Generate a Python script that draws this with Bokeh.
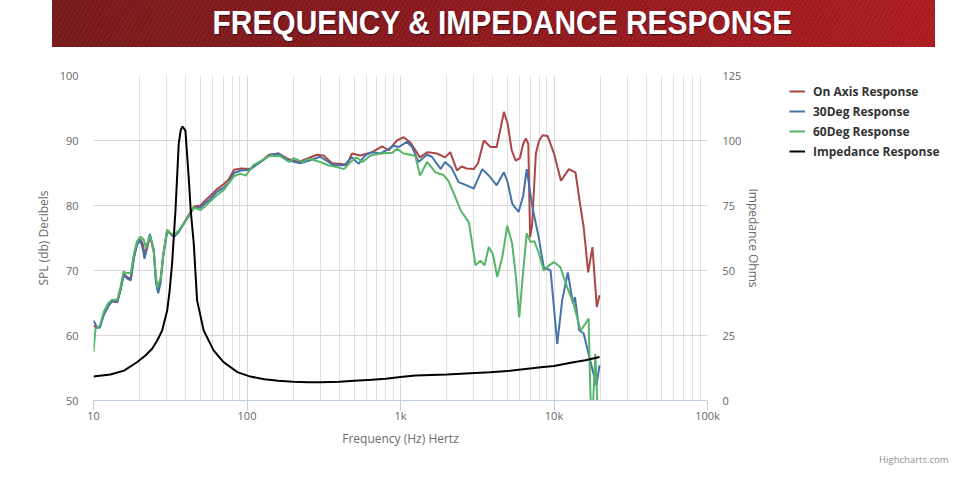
from bokeh.plotting import figure
from bokeh.models import Range1d, LinearAxis, FixedTicker, Legend, LegendItem, Title, Div
from bokeh.layouts import column, row
from bokeh.embed import file_html
from bokeh.resources import INLINE

# ---------------- data ----------------
title_text = "FREQUENCY &amp; IMPEDANCE RESPONSE"
series_names = ["On Axis Response", "30Deg Response", "60Deg Response", "Impedance Response"]

x_ticks = [10, 100, 1000, 10000, 100000]
x_tick_labels = ["10", "100", "1k", "10k", "100k"]
y_ticks = [50, 60, 70, 80, 90, 100]
imp_ticks = [0, 25, 50, 75, 100, 125]

freq_on = [10, 10.5, 11, 11.7, 12.5, 13.2, 14.3, 15, 15.7, 16.5, 17.5, 18.3, 19.2, 20.2, 21.0, 21.6,
           22.4, 23.3, 24.7, 25.5, 26.4, 27.3, 28.5, 30.2, 31.5, 33.4, 36, 40.8, 45, 49.8, 53, 57.8,
           63, 70.6, 76, 82.3, 92, 104, 122, 139, 161, 183, 217, 246, 285, 315, 358, 416, 444, 484,
           548, 653, 759, 838, 948, 1048, 1160, 1340, 1490, 1600, 1730,
           1950, 2110, 2330, 2500, 2700, 3000, 3200, 3490, 3860, 4230, 4500, 4720, 5000, 5300, 5630,
           6000, 6300, 6550, 6800, 6990, 7200, 7620, 8000, 8430, 9080, 10000, 11100, 12500, 13800,
           14900, 15600, 16700, 17800, 19000, 19800]
spl_on = [61.5, 61.2, 61.3, 63.5, 64.8, 65.3, 65.1, 67, 69.5, 69, 68.7, 72, 74, 74.8, 74, 72.2,
          73.5, 75.3, 73, 68.5, 66.9, 68.5, 72.5, 76.2, 75.8, 75.2, 76, 78.2, 79.8, 80, 80.7, 81.5,
          82.4, 83.3, 84, 85.5, 85.7, 85.6, 86.7, 87.8, 88.0, 87.2, 86.7, 87.2, 87.8, 87.7, 86.5, 86.4, 86.2, 88.0,
          87.7, 88.2, 89.1, 88.5, 90.0, 90.5, 89.7, 87.4, 88.2, 88.1, 88.0,
          87.4, 88.2, 85.4, 86, 85.7, 85.6, 86.5, 90, 89.0, 89, 92, 94.4, 92.5, 88.5, 86.9,
          87.3, 89.5, 90.3, 89.5, 75.1, 77, 88, 90, 90.8, 90.7, 88.0, 83.8, 85.6, 85.1,
          79.7, 76.7, 69.7, 73.6, 64.4, 66.2]

freq_30 = [10, 10.5, 11, 11.7, 12.5, 13.2, 14.3, 15, 15.7, 16.5, 17.5, 18.3, 19.2, 20.2, 21.0, 21.5,
           22.4, 23.3, 24.7, 25.5, 26.4, 27.3, 28.5, 30.2, 31.5, 33.4, 36, 40.8, 45, 49.8, 53, 57.8,
           63, 70.6, 76, 82.3, 92, 104, 116, 128, 142.5, 161, 183, 222, 260, 300, 366, 428, 484, 533,
           588, 653, 740, 838, 904, 975, 1100, 1190, 1310, 1490, 1600, 1830, 1950, 2150, 2390,
           2700, 3000, 3410, 3800, 4230, 4720, 5000, 5340, 5880, 6300, 6640, 7240, 7950, 8570, 9500,
           10500, 11300, 12300, 13300, 13700, 14600, 15600, 17200, 18900, 19800]
spl_30 = [62.3, 61.3, 61.2, 63.2, 64.5, 65.2, 65.3, 67, 69.3, 68.8, 68.5, 71.8, 74, 74.7, 73.2, 71.8,
          74, 75.6, 73.2, 68.2, 66.5, 68, 72.3, 76, 75.7, 75.2, 76, 78, 79.6, 79.7, 80.3, 81,
          82, 82.8, 83.5, 85, 85.4, 85.5, 86.3, 87, 87.8, 88, 87.0, 86.5, 87.0, 87.5, 86.2, 86.2, 87.4, 86.4,
          87.7, 88.2, 88.0, 88.7, 89.2, 89.0, 89.8, 89.0, 86.7, 87.8, 87.5, 85.6, 86.7, 85.8, 83.6,
          83.1, 82.6, 85.6, 84.5, 83.1, 85.1, 83.5, 80.3, 79.0, 81.5, 85.6, 79.7, 75.1, 70.5, 70,
          58.7, 65.4, 69.7, 64.9, 65.9, 60.8, 60.3, 56.2, 52.3, 55.4]

freq_60 = [10, 10.3, 11, 11.7, 12.5, 13.2, 14.3, 15, 15.7, 16.5, 17.5, 18.3, 19.2, 20.2, 21.2, 22.0,
           23.3, 24.7, 26.0, 27.5, 28.5, 30.2, 31.5, 33.4, 36, 40.8, 45, 49.8, 53, 57.8, 63, 70.6,
           82.3, 90.6, 98, 110, 139, 165, 188, 202, 229, 254, 300, 339, 384, 428, 473, 520, 565, 637,
           740, 883, 948, 1048, 1160, 1250, 1340, 1490, 1690, 1900, 2050, 2230, 2470, 2790, 3080, 3320,
           3530, 3760, 4000, 4270, 4600, 4960, 5340, 5650, 5940, 6250, 6640, 7030, 7460, 8000, 8570,
           9300, 10000, 11000, 12200, 13400, 14900, 16000, 16800, 17200, 17600, 18600, 19500]
spl_60 = [57.5, 61, 61.5, 63.7, 65, 65.5, 65.5, 67.5, 69.8, 69.6, 69.6, 72.5, 74.5, 75.2, 74.8, 73.5,
          75.4, 72.8, 67.3, 69, 72.5, 76.3, 75.8, 75.5, 76.2, 78, 79.7, 79.3, 79.8, 80.7, 81.5, 82.4,
          84.5, 84.9, 84.6, 86.2, 87.6, 87.6, 86.7, 87.3, 86.7, 87.2, 86.7, 86.2, 85.9, 85.6, 86.7, 87.4, 86.7, 87.7,
          88.0, 88.1, 88.7, 88.0, 87.8, 87.6, 84.6, 86.7, 85.1, 84.7, 83.8, 81.8, 79.2, 77.4, 70.8, 71.5,
          70.8, 73.6, 72.5, 69.0, 72, 76.9, 74.1, 69, 62.8, 69, 75.7, 74.4, 74.5, 72.5, 70.0,
          70.8, 71.3, 70.5, 67.4, 64.9, 60.8, 61.8, 62.6, 52.6, 45, 57.2, 45]

freq_imp = [10, 12.9, 15.8, 19.2, 21.8, 24.1, 26, 28, 30.2, 31.3, 32.5, 34.2, 35.9, 37, 38, 39.7,
            41.7, 43, 45, 47.3, 52.2, 60.7, 70.6, 86.6, 105, 130, 160, 200, 250, 300, 400, 500, 650,
            800, 1000, 1250, 2000, 3800, 5000, 8200, 10000, 13400, 16000, 19800]
imp_ohms = [9.2, 10.0, 11.5, 14.7, 17.3, 19.9, 23.1, 26.9, 34.6, 42, 52.6, 73.1, 98.7, 104, 105.4, 103.8,
            85.9, 73, 60.3, 38.5, 26.9, 19.2, 14.7, 10.9, 9.2, 8.2, 7.6, 7.2, 7.0, 7.0, 7.2, 7.6, 8.0,
            8.4, 9.0, 9.6, 10.0, 10.9, 11.3, 12.8, 13.3, 14.7, 15.5, 16.7]

# ---------------- style ----------------
colors = ["#aa4643", "#4572a7", "#55b569", "#000000"]
tick_font = "Open Sans"

# ---------------- banner ----------------
banner_html = (
    '<div style="width:883px;height:47px;margin-left:52px;overflow:hidden;'
    'background-image:'
    'repeating-linear-gradient(37deg, rgba(0,0,0,0.10) 0px, rgba(0,0,0,0.10) 1px, rgba(0,0,0,0) 1px, rgba(0,0,0,0) 3px),'
    'repeating-linear-gradient(-61deg, rgba(255,255,255,0.05) 0px, rgba(255,255,255,0.05) 1px, rgba(255,255,255,0) 1px, rgba(255,255,255,0) 4px),'
    'linear-gradient(90deg, #7b1b1c 0%, #8a1a1d 35%, #9e1b1f 70%, #b21c21 100%);'
    'text-align:center;">'
    '<span style="display:inline-block;margin-left:18px;transform:scaleX(0.88);transform-origin:center;'
    'font-family:\'Liberation Sans\', Arial, sans-serif;font-weight:bold;font-size:34px;line-height:44px;'
    'color:#ffffff;text-shadow:1px 1px 1px rgba(20,10,40,0.7);white-space:nowrap;">'
    + title_text + '</span></div>'
)
banner = Div(text=banner_html, width=976, height=47, margin=0)

# ---------------- main chart ----------------
p = figure(frame_width=614, frame_height=325, x_axis_type="log", x_range=Range1d(10, 100000),
           y_range=Range1d(50, 100), output_backend="svg", toolbar_location=None,
           min_border_left=93, min_border_right=40, min_border_top=28, min_border_bottom=85)
p.outline_line_color = None
p.extra_y_ranges = {"imp": Range1d(0, 125)}

minor = [m * d for d in x_ticks[:-1] for m in range(2, 10)]
p.xaxis.ticker = FixedTicker(ticks=x_ticks, minor_ticks=minor)
p.xaxis.major_label_overrides = {t: l for t, l in zip(x_ticks, x_tick_labels)}
p.xaxis.axis_label = "Frequency (Hz) Hertz"
p.xaxis.axis_line_color = "#c0d0e0"
p.xaxis.major_tick_line_color = "#c0d0e0"
p.xaxis.major_tick_out = 10
p.xaxis.major_tick_in = 0
p.xaxis.minor_tick_line_color = None
p.xaxis.minor_tick_out = 0
p.xaxis.major_label_standoff = -3
p.xaxis.axis_label_standoff = 4

p.yaxis.ticker = FixedTicker(ticks=y_ticks)
p.yaxis.axis_label = "SPL (db) Decibels"
p.yaxis.axis_line_color = None
p.yaxis.major_tick_line_color = None
p.yaxis.minor_tick_line_color = None
p.yaxis.major_tick_out = 0
p.yaxis.minor_tick_out = 0
p.yaxis.major_label_standoff = 15
p.yaxis.axis_label_standoff = 5

ax2 = LinearAxis(y_range_name="imp", ticker=FixedTicker(ticks=imp_ticks), axis_label="Impedance Ohms")
ax2.axis_line_color = None
ax2.major_tick_line_color = None
ax2.minor_tick_line_color = None
ax2.major_tick_out = 0
ax2.minor_tick_out = 0
ax2.major_label_standoff = 15
ax2.axis_label_standoff = 1
p.add_layout(ax2, "right")

for ax in [p.xaxis[0], p.yaxis[0], ax2]:
    ax.major_label_text_font = tick_font
    ax.major_label_text_font_size = "11px"
    ax.major_label_text_color = "#666666"
    ax.axis_label_text_font = tick_font
    ax.axis_label_text_font_size = "12px"
    ax.axis_label_text_font_style = "normal"
    ax.axis_label_text_color = "#6b6b6b"

p.xgrid.grid_line_color = "#d8d8d8"
p.xgrid.minor_grid_line_color = "#e0e0e0"
p.ygrid.grid_line_color = "#d8d8d8"

p.line(freq_on, spl_on, line_color=colors[0], line_width=2)
p.line(freq_30, spl_30, line_color=colors[1], line_width=2)
p.line(freq_60, spl_60, line_color=colors[2], line_width=2)
p.line(freq_imp, imp_ohms, line_color=colors[3], line_width=2, y_range_name="imp")

# ---------------- legend panel (right) ----------------
lf = figure(frame_width=211, frame_height=325, x_range=Range1d(0, 1), y_range=Range1d(0, 1),
            output_backend="svg", toolbar_location=None,
            min_border_left=0, min_border_right=0, min_border_top=28, min_border_bottom=85,
            x_axis_location=None, y_axis_location=None)
lf.outline_line_color = None
lf.grid.visible = False
# legend keys only: single-point lines draw nothing inside the frame
keys = [lf.line(x=[0], y=[0], line_color=c, line_width=2) for c in colors]

legend = Legend(items=[LegendItem(label=n_, renderers=[r]) for n_, r in zip(series_names, keys)],
                location=(24, 239), orientation="vertical")
legend.border_line_color = None
legend.background_fill_alpha = 0
legend.padding = 0
legend.margin = 0
legend.spacing = 0
legend.label_height = 20
legend.glyph_height = 20
legend.glyph_width = 16
legend.label_standoff = 8
legend.label_text_font = "Open Sans"
legend.label_text_font_size = "12px"
legend.label_text_font_style = "bold"
legend.label_text_color = "#333333"
lf.add_layout(legend, "center")

credit = Title(text="Highcharts.com", align="right", offset=28, standoff=100,
               text_font="Open Sans", text_font_size="9.5px", text_font_style="normal",
               text_color="#909090")
lf.add_layout(credit, "below")

layout = column(banner, row(p, lf, spacing=0), spacing=0)
open("out.html", "w").write(file_html(layout, INLINE))
